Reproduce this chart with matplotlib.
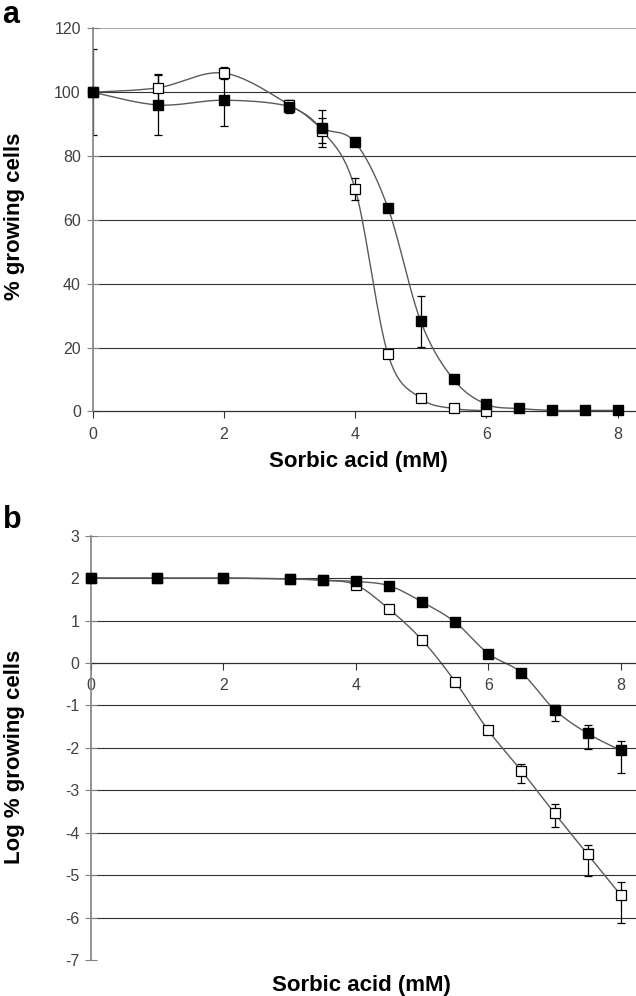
import numpy as np
import matplotlib
matplotlib.use("Agg")
import matplotlib.pyplot as plt

plt.rcParams["font.family"] = ["Liberation Sans", "DejaVu Sans"]
plt.rcParams["axes.unicode_minus"] = False

# Panel a: % growing cells
x_filled = [0, 1, 2, 3, 3.5, 4, 4.5, 5, 5.5, 6, 6.5, 7, 7.5, 8]
pct_filled = [100, 96, 97.5, 95.5, 88.7, 84.3, 63.8, 28.2, 10.0, 2.2, 0.9, 0.3, 0.3, 0.3]
pct_filled_err = [13.4, 9.5, 8, 2, 5.8, 0.8, 1.2, 8, 0.5, 0.3, 0.2, 0, 0, 0]

x_open = [0, 1, 2, 3, 3.5, 4, 4.5, 5, 5.5, 6]
pct_open = [100, 101.4, 106.0, 96, 88, 69.7, 17.9, 4.1, 0.9, 0.2]
pct_open_err = [0, 4.4, 2, 1.5, 4, 3.4, 0.5, 0.5, 0.2, 0]

# Panel b: log % growing cells
log_filled = [2, 2, 2, 1.98, 1.95, 1.92, 1.82, 1.44, 0.96, 0.22, -0.23, -1.1, -1.66, -2.06]
log_filled_lo = [0, 0, 0, 0, 0, 0, 0, 0.05, 0, 0, 0, 0.26, 0.36, 0.54]
log_filled_hi = [0, 0, 0, 0, 0, 0, 0, 0.05, 0, 0, 0, 0.1, 0.19, 0.22]

x_open_b = [0, 1, 2, 3, 3.5, 4, 4.5, 5, 5.5, 6, 6.5, 7, 7.5, 8]
log_open = [2, 2, 2, 1.98, 1.95, 1.84, 1.27, 0.54, -0.44, -1.59, -2.54, -3.54, -4.51, -5.47]
log_open_lo = [0, 0, 0, 0, 0, 0, 0, 0, 0, 0, 0.3, 0.33, 0.52, 0.65]
log_open_hi = [0, 0, 0, 0, 0, 0, 0, 0, 0, 0, 0.16, 0.21, 0.21, 0.32]

LINE = "#5a5a5a"
GRID = "#303030"
AXIS = "#808080"
TICK_TXT = "#404040"


def smooth(x, y, n=30):
    # Excel style smoothed line (Catmull-Rom through the points)
    x = np.asarray(x, float)
    y = np.asarray(y, float)
    px = np.concatenate([[x[0]], x, [x[-1]]])
    py = np.concatenate([[y[0]], y, [y[-1]]])
    xs, ys = [], []
    t = np.linspace(0, 1, n)
    for i in range(1, len(px) - 2):
        p0, p1, p2, p3 = (np.array([px[j], py[j]]) for j in (i - 1, i, i + 1, i + 2))
        c1 = p1 + (p2 - p0) / 6
        c2 = p2 - (p3 - p1) / 6
        b = ((1 - t) ** 3)[:, None] * p1 + (3 * (1 - t) ** 2 * t)[:, None] * c1 \
            + (3 * (1 - t) * t ** 2)[:, None] * c2 + (t ** 3)[:, None] * p2
        xs.extend(b[:, 0])
        ys.extend(b[:, 1])
    return xs, ys


def style_axes(ax):
    for side in ("top", "right"):
        ax.spines[side].set_visible(False)
    ax.spines["left"].set_color(AXIS)
    ax.spines["left"].set_linewidth(1.2)
    ax.spines["left"].set_zorder(6)
    ax.spines["bottom"].set_color(GRID)
    ax.spines["bottom"].set_linewidth(0.9)
    ax.tick_params(axis="y", direction="inout", length=9, color=AXIS,
                   labelsize=11.5, labelcolor=TICK_TXT, pad=4)
    ax.tick_params(axis="x", direction="out", length=5, color=GRID,
                   labelsize=11.5, labelcolor=TICK_TXT, pad=6)


fig = plt.figure(figsize=(6.36, 9.96), dpi=100)

# ---- panel a ----
ax1 = fig.add_axes([0.1456, 0.587, 0.8544, 0.3845])
for g in (20, 40, 60, 80, 100):
    ax1.axhline(g, color=GRID, lw=0.8, zorder=1)
ax1.axhline(120, color="#a8a8a8", lw=0.8, zorder=1)

sx, sy = smooth(x_open, pct_open)
ax1.plot(sx, sy, color=LINE, lw=1, zorder=2)
sx, sy = smooth(x_filled, pct_filled)
ax1.plot(sx, sy, color=LINE, lw=1, zorder=2)

ax1.errorbar(x_filled, pct_filled, yerr=pct_filled_err, fmt="none",
             ecolor="black", elinewidth=0.9, capsize=3, capthick=0.9, zorder=3)
ax1.errorbar(x_open, pct_open, yerr=pct_open_err, fmt="none",
             ecolor="black", elinewidth=0.9, capsize=3, capthick=0.9, zorder=3)
ax1.plot(x_open, pct_open, "s", ms=6.5, mfc="white", mec="black", mew=0.9,
         ls="none", zorder=7, clip_on=False)
ax1.plot(x_filled, pct_filled, "s", ms=6.5, mfc="black", mec="black",
         ls="none", zorder=8, clip_on=False)

ax1.set_xlim(0, 8.28)
ax1.set_ylim(0, 120)
ax1.set_xticks([0, 2, 4, 6, 8])
ax1.set_yticks(range(0, 121, 20))
style_axes(ax1)

# ---- panel b ----
ax2 = fig.add_axes([0.143, 0.0361, 0.857, 0.4261])
for g in (2, 1, -1, -2, -3, -4, -5, -6):
    ax2.axhline(g, color=GRID, lw=0.8, zorder=1)
ax2.axhline(3, color="#a8a8a8", lw=0.8, zorder=1)

sx, sy = smooth(x_open_b, log_open)
ax2.plot(sx, sy, color=LINE, lw=1, zorder=2)
sx, sy = smooth(x_filled, log_filled)
ax2.plot(sx, sy, color=LINE, lw=1, zorder=2)

ax2.errorbar(x_open_b, log_open, yerr=[log_open_lo, log_open_hi], fmt="none",
             ecolor="black", elinewidth=0.9, capsize=3, capthick=0.9, zorder=3)
ax2.errorbar(x_filled, log_filled, yerr=[log_filled_lo, log_filled_hi], fmt="none",
             ecolor="black", elinewidth=0.9, capsize=3, capthick=0.9, zorder=3)
ax2.plot(x_open_b, log_open, "s", ms=6.5, mfc="white", mec="black", mew=0.9,
         ls="none", zorder=7, clip_on=False)
ax2.plot(x_filled, log_filled, "s", ms=6.5, mfc="black", mec="black",
         ls="none", zorder=8, clip_on=False)

ax2.set_xlim(0, 8.23)
ax2.set_ylim(-7, 3)
ax2.set_xticks([0, 2, 4, 6, 8])
ax2.set_yticks(range(-7, 4))
style_axes(ax2)
ax2.spines["bottom"].set_position(("data", 0))

# ---- labels ----
fig.text(0.564, 0.537, "Sorbic acid (mM)", ha="center", va="center",
         fontsize=16, fontweight="bold")
fig.text(0.568, 0.011, "Sorbic acid (mM)", ha="center", va="center",
         fontsize=16, fontweight="bold")
fig.text(0.023, 0.783, "% growing cells", ha="center", va="center",
         rotation=90, fontsize=16, fontweight="bold")
fig.text(0.023, 0.240, "Log % growing cells", ha="center", va="center",
         rotation=90, fontsize=16, fontweight="bold")
fig.text(0.004, 0.985, "a", ha="left", va="center", fontsize=22, fontweight="bold")
fig.text(0.004, 0.478, "b", ha="left", va="center", fontsize=22, fontweight="bold")

fig.savefig("out.png", dpi=100)
